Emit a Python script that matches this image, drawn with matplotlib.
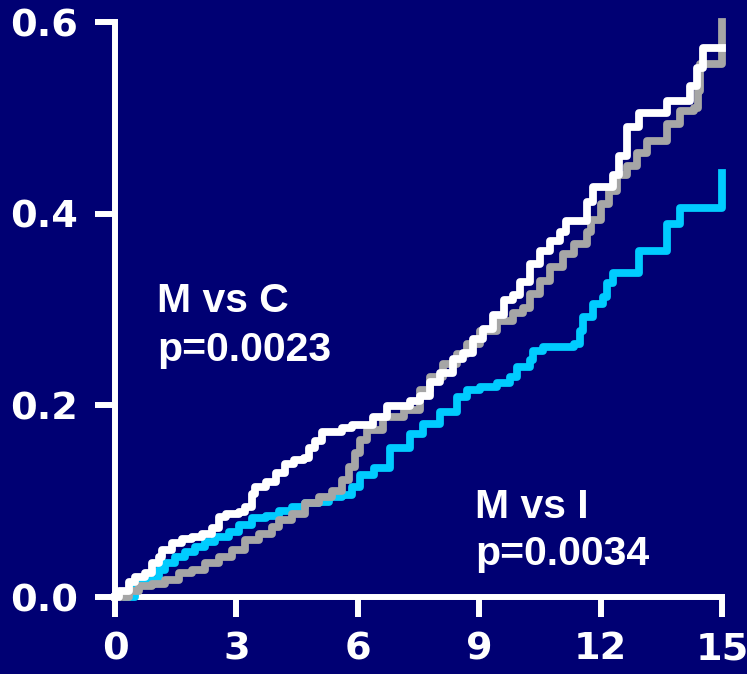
import matplotlib
matplotlib.use("Agg")
import matplotlib.pyplot as plt

# cumulative incidence step curves (years vs proportion)
white_x = [0, 0.09, 0.34, 0.5, 0.75, 0.91, 1.08, 1.16, 1.41, 1.66, 1.9, 2.15, 2.4, 2.56,
           2.73, 3.06, 3.22, 3.39, 3.47, 3.72, 3.97, 4.21, 4.42, 4.66, 4.79, 4.95, 5.11,
           5.6, 5.85, 6.1, 6.38, 6.71, 7.29, 7.54, 7.78, 8.03, 8.36, 8.6, 8.85, 9.1,
           9.35, 9.6, 9.84, 10.0, 10.26, 10.5, 10.75, 11.0, 11.15, 11.66, 11.81, 12.3,
           12.45, 12.65, 12.95, 13.64, 14.2, 14.38, 14.53, 15.0]
white_y = [0, 0.006, 0.016, 0.021, 0.025, 0.035, 0.042, 0.049, 0.056, 0.061, 0.063,
           0.066, 0.072, 0.084, 0.087, 0.089, 0.094, 0.108, 0.115, 0.12, 0.129, 0.139,
           0.143, 0.145, 0.156, 0.163, 0.172, 0.176, 0.179, 0.18, 0.188, 0.199, 0.205,
           0.21, 0.224, 0.234, 0.248, 0.255, 0.269, 0.28, 0.294, 0.31, 0.315, 0.329,
           0.347, 0.361, 0.371, 0.381, 0.392, 0.412, 0.428, 0.44, 0.46, 0.49, 0.505,
           0.518, 0.533, 0.552, 0.573, 0.573]

gray_x = [0.2, 0.34, 0.58, 0.91, 1.24, 1.57, 1.9, 2.23, 2.56, 2.89, 3.22, 3.55, 3.88,
          4.05, 4.37, 4.7, 5.03, 5.36, 5.6, 5.77, 5.94, 6.06, 6.22, 6.63, 7.13, 7.54,
          7.78, 8.11, 8.44, 8.69, 9.02, 9.43, 9.84, 10.09, 10.26, 10.5, 10.75, 11.08,
          11.33, 11.66, 11.75, 12.0, 12.2, 12.4, 12.65, 12.9, 13.15, 13.65, 13.95,
          14.3, 14.4, 14.45, 15.0, 15.0]
gray_y = [0, 0.006, 0.011, 0.014, 0.018, 0.025, 0.028, 0.035, 0.042, 0.049, 0.059,
          0.066, 0.073, 0.08, 0.087, 0.098, 0.104, 0.111, 0.122, 0.136, 0.15, 0.164,
          0.174, 0.188, 0.195, 0.216, 0.23, 0.243, 0.254, 0.264, 0.278, 0.288, 0.296,
          0.302, 0.316, 0.33, 0.344, 0.358, 0.368, 0.381, 0.393, 0.41, 0.424, 0.44,
          0.45, 0.463, 0.476, 0.494, 0.507, 0.51, 0.528, 0.556, 0.556, 0.6]

cyan_x = [0.3, 0.5, 1.08, 1.24, 1.49, 1.74, 1.98, 2.23, 2.48, 2.81, 3.06, 3.39, 3.72,
          4.05, 4.37, 4.7, 5.03, 5.28, 5.61, 5.86, 6.06, 6.4, 6.8, 7.29, 7.62, 8.03,
          8.44, 8.69, 9.02, 9.43, 9.76, 9.93, 10.26, 10.34, 10.58, 11.33, 11.49, 11.57,
          11.82, 12.07, 12.15, 12.3, 12.95, 13.65, 13.95, 15.0, 15.0]
cyan_y = [0, 0.018, 0.028, 0.035, 0.042, 0.047, 0.052, 0.057, 0.063, 0.068, 0.075,
          0.082, 0.085, 0.09, 0.094, 0.098, 0.099, 0.104, 0.106, 0.115, 0.127, 0.135,
          0.155, 0.17, 0.181, 0.193, 0.209, 0.216, 0.219, 0.223, 0.23, 0.24, 0.247,
          0.257, 0.261, 0.264, 0.278, 0.292, 0.306, 0.313, 0.328, 0.338, 0.361, 0.389,
          0.406, 0.406, 0.442]

xticks = [0, 3, 6, 9, 12, 15]
yticks = [0.0, 0.2, 0.4, 0.6]
ylabels = ["0.0", "0.2", "0.4", "0.6"]

bg = "#000073"

fig = plt.figure(figsize=(7.47, 6.74), dpi=100, facecolor=bg)
ax = fig.add_axes([0.154, 0.1142, 0.8126, 0.8531])
ax.set_facecolor(bg)

kw = dict(drawstyle="steps-post", lw=5.6, solid_joinstyle="round", clip_on=False)
ax.plot(cyan_x, cyan_y, color="#00CCFF", zorder=3, **kw)
ax.plot(gray_x, gray_y, color="#A6A6A6", zorder=4, **kw)
ax.plot(white_x, white_y, color="white", zorder=5, **kw)

ax.set_xlim(0, 15)
ax.set_ylim(0, 0.6)
for s in ["top", "right"]:
    ax.spines[s].set_visible(False)
for s in ["left", "bottom"]:
    ax.spines[s].set_color("white")
    ax.spines[s].set_linewidth(4.3)

ax.set_xticks(xticks)
ax.set_yticks(yticks)
ax.set_yticklabels(ylabels)
ax.tick_params(colors="white", length=14.5, width=4.3, labelsize=27.5)
ax.tick_params(axis="y", pad=12)
ax.tick_params(axis="x", pad=10)
for lab in ax.get_xticklabels() + ax.get_yticklabels():
    lab.set_fontweight("bold")
    lab.set_family("DejaVu Sans")

tf = dict(color="white", fontsize=29.5, fontweight="bold", family="Liberation Sans",
          va="baseline", ha="left")
ax.text(1.04, 0.297, "M vs C", **tf)
ax.text(1.04, 0.246, "p=0.0023", **tf)
ax.text(8.9, 0.082, "M vs I", **tf)
ax.text(8.9, 0.033, "p=0.0034", **tf)

fig.savefig("out.png", dpi=100, facecolor=bg)
